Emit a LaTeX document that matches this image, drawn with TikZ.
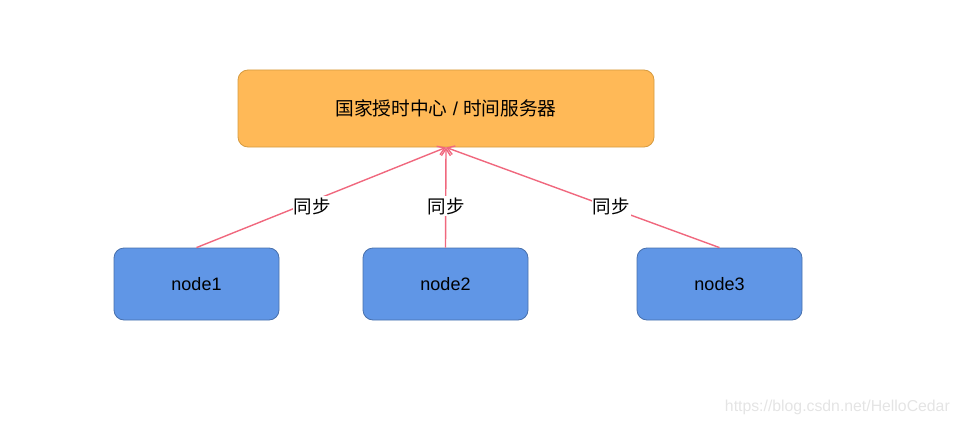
\documentclass[tikz,border=0pt]{standalone}
\usepackage{fontspec}
\setmainfont{Liberation Sans}
\newfontfamily\cjk{Noto Sans CJK SC}
\usetikzlibrary{arrows.meta}

\definecolor{boxorange}{RGB}{255,185,87}
\definecolor{lineorange}{RGB}{214,155,64}
\definecolor{boxblue}{RGB}{96,150,230}
\definecolor{lineblue}{RGB}{72,112,172}
\definecolor{syncred}{RGB}{240,104,126}
\definecolor{markgray}{RGB}{228,228,228}

\begin{document}
\begin{tikzpicture}[x=1pt,y=-1pt,
	serverbox/.style={draw=lineorange, fill=boxorange, rounded corners=10pt, line width=0.8pt, minimum width=416pt, minimum height=77pt, inner sep=0pt, font=\fontsize{18.7}{20}\selectfont},
	clientbox/.style={draw=lineblue, fill=boxblue, rounded corners=10pt, line width=0.8pt, minimum width=165pt, minimum height=72pt, inner sep=0pt, font=\fontsize{18}{20}\selectfont},
	sync/.style={draw=syncred, line width=1.4pt, -{Straight Barb[length=7pt, width=9pt]}},
	synclabel/.style={fill=white, inner sep=1pt, font=\cjk\fontsize{18.5}{20}\selectfont}]
	\useasboundingbox (0,0) rectangle (963,425);
	
	% Boxes
	\node[serverbox] (srv) at (446,108.5) {{\cjk 国家授时中心} / {\cjk 时间服务器}};
	\node[clientbox] (n1) at (196.5,284) {node1};
	\node[clientbox] (n2) at (445.5,284) {node2};
	\node[clientbox] (n3) at (719.5,284) {node3};
	
	% sync lines
	\draw[sync] (n1.north) -- (srv.south);
	\draw[sync] (n2.north) -- (srv.south);
	\draw[sync] (n3.north) -- (srv.south);
	
	\node[synclabel] (s1) at (312,206) {同步};
	\node[synclabel] (s2) at (446,206) {同步};
	\node[synclabel] (s3) at (611,206) {同步};
	
	% watermark
	\node[markgray, anchor=east, inner sep=0pt, font=\fontsize{15.8}{17}\selectfont] (wm) at (950,407) {https://blog.csdn.net/HelloCedar};
	
\end{tikzpicture}
\end{document}
